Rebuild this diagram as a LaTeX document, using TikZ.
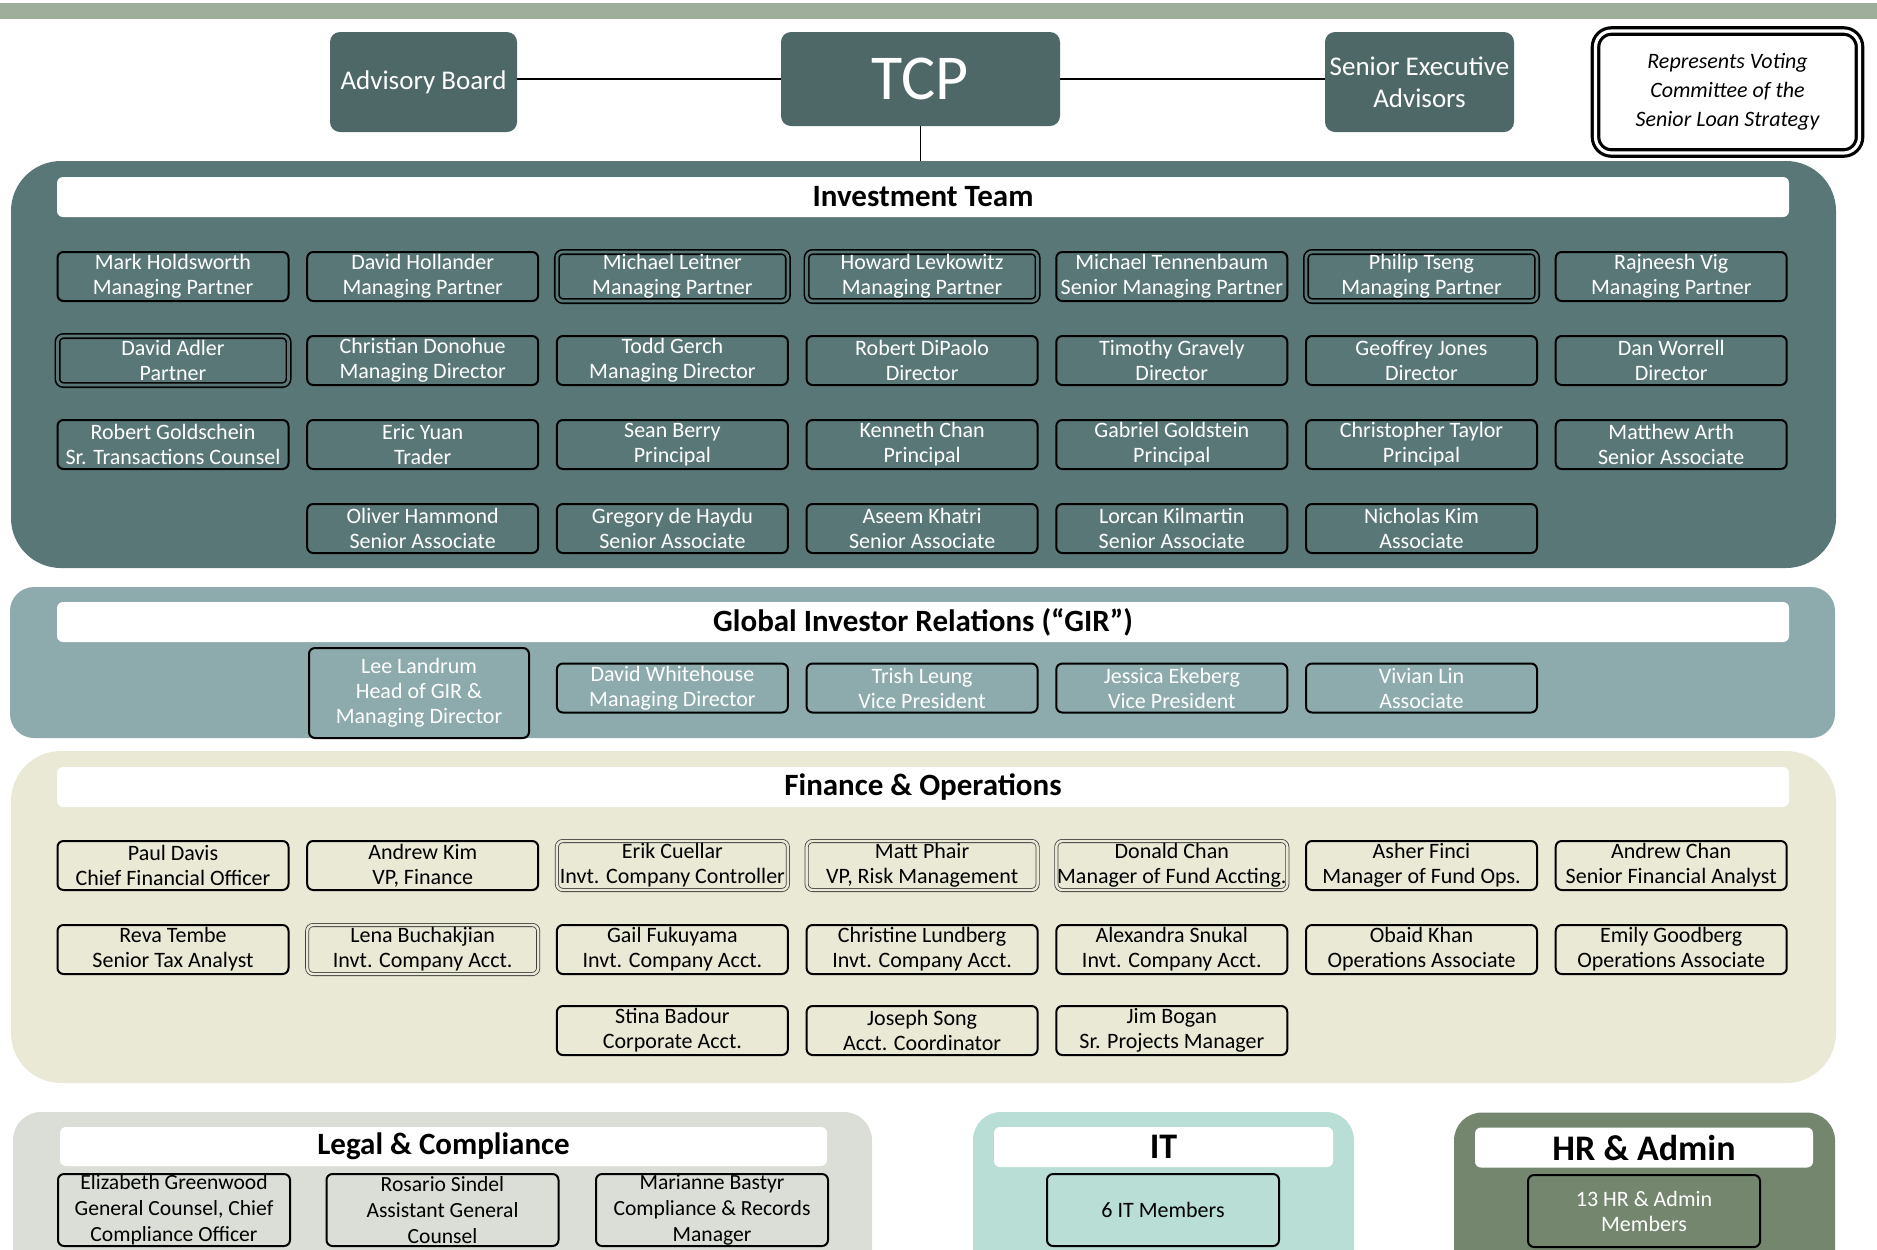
\documentclass[tikz,border=0pt]{standalone}
\usepackage{fontspec}
\setmainfont{Carlito}
\definecolor{barsage}{HTML}{9EAE9A}
\definecolor{topfill}{HTML}{4E6767}
\definecolor{invfill}{HTML}{5A7778}
\definecolor{girfill}{HTML}{8DABAC}
\definecolor{finfill}{HTML}{EAE9D6}
\definecolor{legalfill}{HTML}{DADED7}
\definecolor{itfill}{HTML}{B8DED6}
\definecolor{hrfill}{HTML}{74876E}
\begin{document}
\begin{tikzpicture}[
    x=0.5pt, y=-0.5pt,
    node distance=124.85pt,
    topbox/.style={rectangle, rounded corners=5pt, fill=topfill, text=white, align=center, inner sep=0pt, font=\fontsize{13.5}{16}\selectfont},
    panel/.style={rectangle, rounded corners=25pt, inner sep=0pt},
    header/.style={rectangle, rounded corners=3pt, fill=white, minimum width=866pt, minimum height=20pt, inner sep=0pt, font=\fontsize{15.5}{17}\selectfont\bfseries},
    person/.style={rectangle, rounded corners=3pt, draw=black, line width=1pt, minimum width=115.5pt, minimum height=24.5pt, align=center, inner sep=0pt, font=\fontsize{11}{12.5}\selectfont},
    invperson/.style={person, fill=invfill, text=white},
    invkey/.style={invperson, line width=0.8pt, double=invfill, double distance=1.4pt},
    girperson/.style={person, fill=girfill, text=white},
    finperson/.style={person, fill=finfill},
    finkey/.style={finperson, draw=black!75, line width=0.4pt, double=finfill, double distance=1.2pt},
    link/.style={draw=black, line width=1pt}
]
    \clip (0,0) rectangle (1877,1249);
    \fill[barsage] (0,3) rectangle (1877,19);

    % top level
    \node[topbox, minimum width=93.5pt, minimum height=50pt] (advisory) at (423.5,82) {Advisory Board};
    \node[topbox, minimum width=139.5pt, minimum height=47pt, font=\fontsize{32}{34}\selectfont] (tcp) at (920.5,79) {TCP};
    \node[topbox, minimum width=94.5pt, minimum height=50pt] (seniorexec) at (1419.5,82) {Senior Executive\\Advisors};
    \node[rectangle, rounded corners=8pt, draw=black, line width=1.6pt, double=white, double distance=1.6pt, minimum width=132pt, minimum height=61pt, align=center, inner sep=0pt, font=\fontsize{11}{14.5}\selectfont\itshape] (legend) at (1727.5,92) {Represents Voting\\Committee of the\\Senior Loan Strategy};

    % panels
    \node[panel, fill=invfill, minimum width=912.5pt, minimum height=203.5pt] (invpanel) at (923.5,364.5) {};
    \node[panel, rounded corners=12pt, fill=girfill, minimum width=912.5pt, minimum height=75.5pt] (girpanel) at (922.5,662.5) {};
    \node[panel, fill=finfill, minimum width=912.5pt, minimum height=166pt] (finpanel) at (923.5,917) {};
    \node[panel, rounded corners=14pt, fill=legalfill, minimum width=429.5pt, minimum height=94pt] (legalpanel) at (442.5,1206) {};
    \node[panel, rounded corners=14pt, fill=itfill, minimum width=190.5pt, minimum height=94pt] (itpanel) at (1163.5,1206) {};
    \node[panel, rounded corners=14pt, fill=hrfill, minimum width=190.5pt, minimum height=94pt] (hrpanel) at (1644.5,1206.5) {};

    \draw[link] (tcp.west) -- (advisory.east |- tcp.west);
    \draw[link] (tcp.east) -- (seniorexec.west |- tcp.east);
    \draw[draw=black, line width=0.6pt] (tcp.south) -- (tcp.south |- invpanel.north);

    % investment team
    \node[header] (invhead) at (923,197) {Investment Team};
    \node[invperson] (holdsworth) at (173,276.5) {Mark Holdsworth\\Managing Partner};
    \node[invperson, right of=holdsworth] (hollander) {David Hollander\\Managing Partner};
    \node[invkey, right of=hollander] (leitner) {Michael Leitner\\Managing Partner};
    \node[invkey, right of=leitner] (levkowitz) {Howard Levkowitz\\Managing Partner};
    \node[invperson, right of=levkowitz] (tennenbaum) {Michael Tennenbaum\\Senior Managing Partner};
    \node[invkey, right of=tennenbaum] (tseng) {Philip Tseng\\Managing Partner};
    \node[invperson, right of=tseng] (vig) {Rajneesh Vig\\Managing Partner};

    \node[invkey, below of=holdsworth, node distance=42pt] (adler) {David Adler\\Partner};
    \node[invperson, right of=adler] (donohue) {Christian Donohue\\Managing Director};
    \node[invperson, right of=donohue] (gerch) {Todd Gerch\\Managing Director};
    \node[invperson, right of=gerch] (dipaolo) {Robert DiPaolo\\Director};
    \node[invperson, right of=dipaolo] (gravely) {Timothy Gravely\\Director};
    \node[invperson, right of=gravely] (jones) {Geoffrey Jones\\Director};
    \node[invperson, right of=jones] (worrell) {Dan Worrell\\Director};

    \node[invperson, below of=adler, node distance=42pt] (goldschein) {Robert Goldschein\\Sr. Transactions Counsel};
    \node[invperson, right of=goldschein] (yuan) {Eric Yuan\\Trader};
    \node[invperson, right of=yuan] (berry) {Sean Berry\\Principal};
    \node[invperson, right of=berry] (kchan) {Kenneth Chan\\Principal};
    \node[invperson, right of=kchan] (goldstein) {Gabriel Goldstein\\Principal};
    \node[invperson, right of=goldstein] (taylor) {Christopher Taylor\\Principal};
    \node[invperson, right of=taylor] (arth) {Matthew Arth\\Senior Associate};

    \node[invperson, below of=yuan, node distance=42pt] (hammond) {Oliver Hammond\\Senior Associate};
    \node[invperson, right of=hammond] (dehaydu) {Gregory de Haydu\\Senior Associate};
    \node[invperson, right of=dehaydu] (khatri) {Aseem Khatri\\Senior Associate};
    \node[invperson, right of=khatri] (kilmartin) {Lorcan Kilmartin\\Senior Associate};
    \node[invperson, right of=kilmartin] (nkim) {Nicholas Kim\\Associate};

    % global investor relations
    \node[header] (girhead) at (923,622) {Global Investor Relations (“GIR”)};
    \node[girperson, minimum width=110pt, minimum height=45pt] (landrum) at (419,693) {Lee Landrum\\Head of GIR \&\\Managing Director};
    \node[girperson] (whitehouse) at (672.4,688) {David Whitehouse\\Managing Director};
    \node[girperson, right of=whitehouse] (leung) {Trish Leung\\Vice President};
    \node[girperson, right of=leung] (ekeberg) {Jessica Ekeberg\\Vice President};
    \node[girperson, right of=ekeberg] (lin) {Vivian Lin\\Associate};

    % finance and operations
    \node[header] (finhead) at (923,787) {Finance \& Operations};
    \node[finperson] (davis) at (173,865.5) {Paul Davis\\Chief Financial Officer};
    \node[finperson, right of=davis] (akim) {Andrew Kim\\VP, Finance};
    \node[finkey, right of=akim] (cuellar) {Erik Cuellar\\Invt. Company Controller};
    \node[finkey, right of=cuellar] (phair) {Matt Phair\\VP, Risk Management};
    \node[finkey, right of=phair] (dchan) {Donald Chan\\Manager of Fund Accting.};
    \node[finperson, right of=dchan] (finci) {Asher Finci\\Manager of Fund Ops.};
    \node[finperson, right of=finci] (achan) {Andrew Chan\\Senior Financial Analyst};

    \node[finperson, below of=davis, node distance=42pt] (tembe) {Reva Tembe\\Senior Tax Analyst};
    \node[finkey, right of=tembe] (buchakjian) {Lena Buchakjian\\Invt. Company Acct.};
    \node[finperson, right of=buchakjian] (fukuyama) {Gail Fukuyama\\Invt. Company Acct.};
    \node[finperson, right of=fukuyama] (lundberg) {Christine Lundberg\\Invt. Company Acct.};
    \node[finperson, right of=lundberg] (snukal) {Alexandra Snukal\\Invt. Company Acct.};
    \node[finperson, right of=snukal] (khan) {Obaid Khan\\Operations Associate};
    \node[finperson, right of=khan] (goodberg) {Emily Goodberg\\Operations Associate};

    \node[finperson, below of=fukuyama, node distance=40.5pt] (badour) {Stina Badour\\Corporate Acct.};
    \node[finperson, right of=badour] (song) {Joseph Song\\Acct. Coordinator};
    \node[finperson, right of=song] (bogan) {Jim Bogan\\Sr. Projects Manager};

    % legal, IT, HR
    \node[header, minimum width=383.5pt, minimum height=19.5pt] (legalhead) at (443.5,1146.5) {Legal \& Compliance};
    \node[person, fill=legalfill, minimum width=116pt, minimum height=36pt, font=\fontsize{10.8}{13}\selectfont] (greenwood) at (174,1210) {Elizabeth Greenwood\\General Counsel, Chief\\Compliance Officer};
    \node[person, fill=legalfill, minimum width=116pt, minimum height=36pt, font=\fontsize{10.8}{13}\selectfont, right of=greenwood, node distance=134.25pt] (sindel) {Rosario Sindel\\Assistant General\\Counsel};
    \node[person, fill=legalfill, minimum width=116pt, minimum height=36pt, font=\fontsize{10.8}{13}\selectfont, right of=sindel, node distance=134.75pt] (bastyr) {Marianne Bastyr\\Compliance \& Records\\Manager};

    \node[header, minimum width=169.5pt, font=\fontsize{18}{19}\selectfont\bfseries] (ithead) at (1163.5,1147) {IT};
    \node[person, fill=itfill, minimum width=116pt, minimum height=36pt] (itmembers) at (1163,1210) {6 IT Members};

    \node[header, minimum width=169pt, font=\fontsize{18}{19}\selectfont\bfseries] (hrhead) at (1644,1147.5) {HR \& Admin};
    \node[person, fill=hrfill, text=white, minimum width=116pt, minimum height=36pt] (hrmembers) at (1644,1211) {13 HR \& Admin\\Members};
\end{tikzpicture}
\end{document}
